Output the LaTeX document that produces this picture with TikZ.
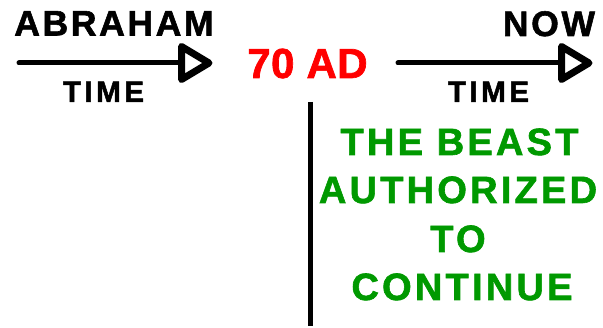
\documentclass[tikz,border=0pt]{standalone}
\usepackage{fontspec}
\setmainfont{Liberation Sans}
\definecolor{beastgreen}{RGB}{0,153,0}
\definecolor{adred}{RGB}{255,0,0}
\tikzset{
  lbl/.style={inner sep=0pt, outer sep=0pt, font=\bfseries},
  bigblack/.style={lbl, font=\fontsize{35.5}{40}\selectfont\bfseries\addfontfeatures{LetterSpace=7.5,FakeBold=1.6}},
  timelbl/.style={lbl, font=\fontsize{29.5}{34}\selectfont\bfseries\addfontfeatures{LetterSpace=12,FakeBold=1.6}},
  redlbl/.style={lbl, text=adred, font=\fontsize{42}{46}\selectfont\bfseries\addfontfeatures{LetterSpace=1,FakeBold=1.6}},
  greenlbl/.style={lbl, text=beastgreen, font=\fontsize{38}{42}\selectfont\bfseries\addfontfeatures{LetterSpace=8.5,FakeBold=1.6}},
  shaft/.style={line width=5pt, line cap=round},
  headtri/.style={line width=7pt, line join=round},
  divider/.style={line width=5pt}
}
\begin{document}
\begin{tikzpicture}[x=1pt,y=-1pt]
\useasboundingbox (0,0) rectangle (603,328);
% labels
\node[bigblack, anchor=base] (abraham) at (114,35.5) {ABRAHAM};
\node[bigblack, anchor=base] (now) at (549,36) {NOW};
\node[timelbl, anchor=base] (time1) at (103.5,102) {TIME};
\node[timelbl, anchor=base] (time2) at (488.5,102) {TIME};
\node[redlbl, anchor=base] (ad) at (307.5,78) {70 AD};
\node[greenlbl, anchor=base] (g1) at (459.5,155) {THE BEAST};
\node[greenlbl, anchor=base] (g2) at (458,203) {AUTHORIZED};
\node[greenlbl, anchor=base] (g3) at (458,252) {TO};
\node[greenlbl, anchor=base] (g4) at (462,300) {CONTINUE};
% left arrow
\coordinate (s1) at (19,63);
\coordinate (h1a) at (181.5,46.5);
\coordinate (h1b) at (181.5,79.5);
\coordinate (h1c) at (209,63);
\coordinate (e1) at (181.5,63);
\draw[shaft] (s1) -- (e1);
\draw[headtri] (h1a) -- (h1c) -- (h1b) -- cycle;
% right arrow
\coordinate (s2) at (398,63);
\coordinate (h2a) at (561.5,46.5);
\coordinate (h2b) at (561.5,79.5);
\coordinate (h2c) at (589,63);
\coordinate (e2) at (561.5,63);
\draw[shaft] (s2) -- (e2);
\draw[headtri] (h2a) -- (h2c) -- (h2b) -- cycle;
% vertical divider
\coordinate (v1) at (310.5,102);
\coordinate (v2) at (310.5,326);
\draw[divider] (v1) -- (v2);
\end{tikzpicture}
\end{document}
